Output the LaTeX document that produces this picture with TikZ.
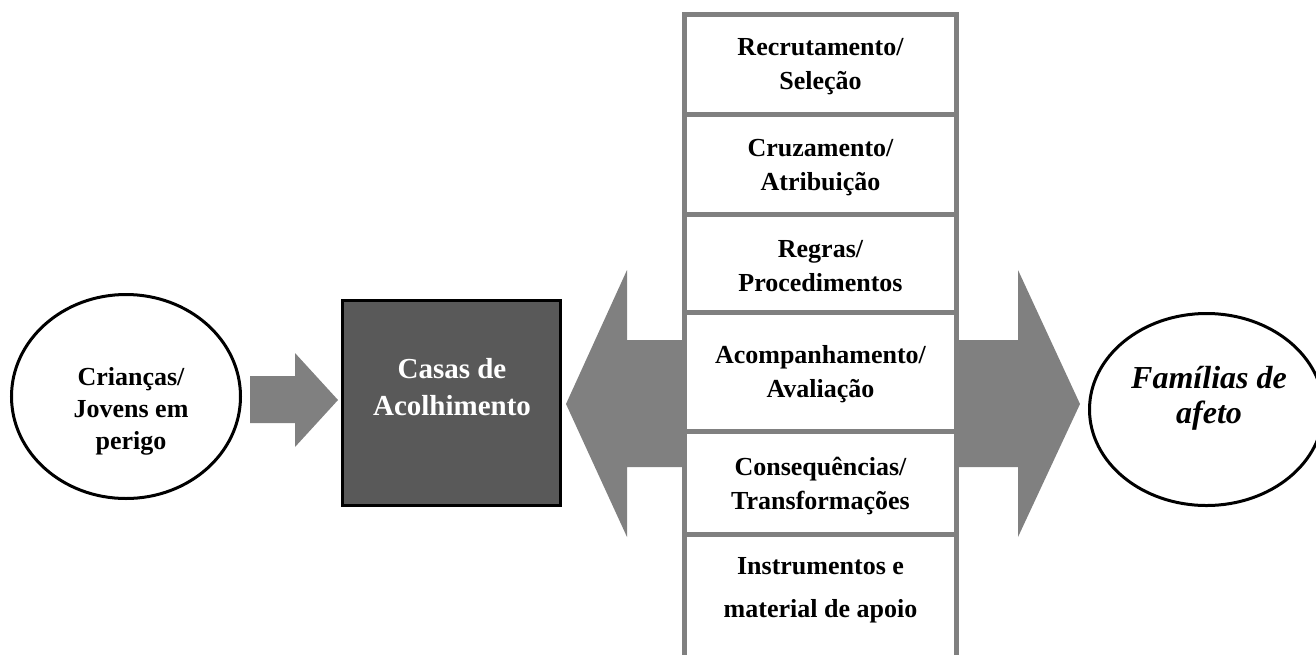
\documentclass[tikz,border=0pt]{standalone}
\usepackage{fontspec}
\setmainfont{Liberation Serif}
\usetikzlibrary{shapes.geometric}
\definecolor{arrowgray}{HTML}{808080}
\definecolor{boxdark}{HTML}{595959}
\tikzset{
  oval/.style={ellipse, draw=black, line width=3pt, fill=white, inner sep=0pt},
  darkbox/.style={rectangle, draw=black, line width=3pt, fill=boxdark, inner sep=0pt, minimum width=218pt, minimum height=205pt},
  cell/.style={rectangle, draw=arrowgray, line width=5pt, fill=white, inner sep=0pt, minimum width=272pt},
  celltext/.style={align=center, font=\bfseries\fontsize{26}{34}\selectfont, inner sep=0pt},
  bigtext/.style={align=center, font=\bfseries\fontsize{26}{32}\selectfont, inner sep=0pt},
  arrowfill/.style={fill=arrowgray, draw=none}
}
\begin{document}
\begin{tikzpicture}[x=1pt,y=-1pt]
\useasboundingbox (0,0) rectangle (1316,654);
\clip (0,0) rectangle (1316,654);
% left ellipse
\node[oval, minimum width=229pt, minimum height=204pt] (kids) at (126,396.5) {};
\node[bigtext] (kidstext) at (131,411.5) {Crianças/\\Jovens em\\perigo};
% small arrow
\fill[arrowfill] (250,376) -- (295,376) -- (295,353) -- (338,400) -- (295,447) -- (295,423) -- (250,423) -- cycle;
% dark box
\node[darkbox] (casas) at (451.5,403) {};
\node[align=center, text=white, font=\bfseries\fontsize{29}{37}\selectfont, inner sep=0pt] (casastext) at (452,387) {Casas de\\Acolhimento};
% big double arrow (behind the stack)
\fill[arrowfill] (566,404) -- (627,270) -- (627,340) -- (1018,340) -- (1018,270) -- (1080,404) -- (1018,537) -- (1018,467) -- (627,467) -- (627,537) -- cycle;
% stack
\node[cell, minimum height=99.5pt] (c1) at (820.5,64.25) {};
\node[celltext] (t1) at (820.5,67) {Recrutamento/\\Seleção};
\node[cell, minimum height=100pt] (c2) at (820.5,164) {};
\node[celltext] (t2) at (820.5,168) {Cruzamento/\\Atribuição};
\node[cell, minimum height=98.5pt] (c3) at (820.5,263.25) {};
\node[celltext] (t3) at (820.5,266) {Regras/\\Procedimentos};
\node[cell, minimum height=118.5pt] (c4) at (820.5,371.75) {};
\node[celltext] (t4) at (820.5,374.5) {Acompanhamento/\\Avaliação};
\node[cell, minimum height=103pt] (c5) at (820.5,482.5) {};
\node[celltext] (t5) at (820.5,486) {Consequências/\\Transformações};
\node[cell, minimum height=166pt] (c6) at (820.5,617) {};
\node[celltext, font=\bfseries\fontsize{26}{43}\selectfont] (t6) at (820.5,590) {Instrumentos e\\material de apoio};
% right ellipse
\node[oval, minimum width=234pt, minimum height=192pt] (fam) at (1206.5,409.5) {};
\node[align=center, font=\bfseries\itshape\fontsize{32}{35}\selectfont, inner sep=0pt] (famtext) at (1209,398) {Famílias de\\afeto};
\end{tikzpicture}
\end{document}
